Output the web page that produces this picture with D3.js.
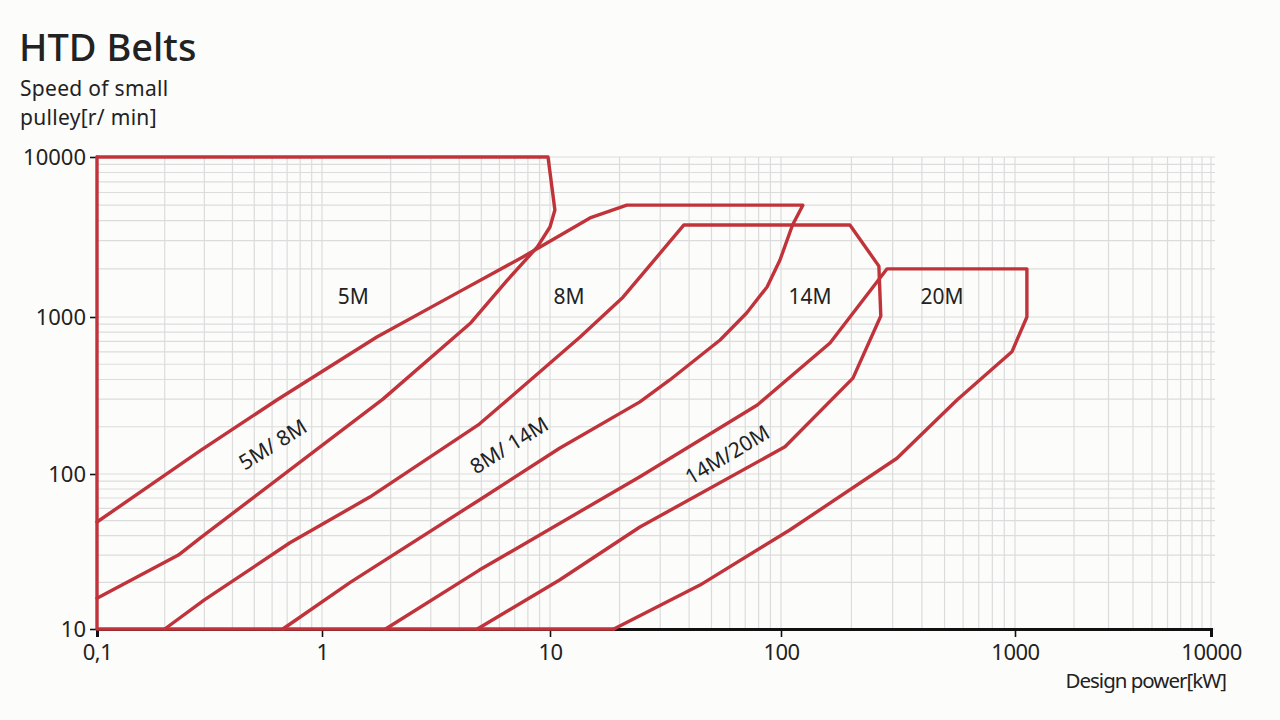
<!DOCTYPE html>
<html>
<head>
<meta charset="utf-8">
<script src="https://cdn.jsdelivr.net/npm/d3@7"></script>
<style>
  html, body { margin: 0; padding: 0; background: #fcfcfb; }
  svg { display: block; }
  text { font-family: "Noto Sans", "Open Sans", sans-serif; fill: #222; }
</style>
</head>
<body>
<svg id="chart" width="1280" height="720"></svg>
<script>
// ---- data (power in kW, speed in r/min) ----
const xTicks = [0.1, 1, 10, 100, 1000, 10000];
const xTickLabels = ["0,1", "1", "10", "100", "1000", "10000"];
const yTicks = [10, 100, 1000, 10000];
const yTickLabels = ["10", "100", "1000", "10000"];

// red frame: bottom edge and left edge of the chart area
const frameEdge = [[18.9, 10], [0.1, 10], [0.1, 10000]];

// boundary lines of each belt region
const limit5M = [[0.1, 10000], [9.8, 10000], [10.5, 4670], [10, 3650], [8.8, 2740], [6.5, 1700],
  [4.5, 920], [1.85, 300], [0.29, 39], [0.23, 30], [0.1, 15.8]];
const limit8M = [[0.1, 49], [0.29, 142], [0.63, 296], [1.74, 746], [3.9, 1410], [7.6, 2370],
  [14.9, 4160], [21.5, 5000], [124, 5000], [112, 3760], [99, 2270], [87, 1540], [71, 1060],
  [54.5, 714], [33, 397], [24.5, 288], [11, 146], [4.9, 68], [1.33, 20], [0.67, 10]];
const limit14M = [[0.2, 10], [0.3, 15.4], [0.72, 36], [1.62, 71], [4.9, 208], [6.5, 296],
  [13.5, 746], [20.7, 1330], [29, 2370], [38, 3760], [197, 3760], [262, 2080], [267, 1015],
  [203, 408], [104, 149], [24.5, 45.5], [11, 20.7], [4.8, 10]];
const limit20M = [[1.9, 10], [4.9, 24], [24.5, 96], [79, 275], [162, 683], [284, 2000],
  [1150, 2000], [1150, 1000], [970, 600], [565, 296], [313, 126], [109, 43.5], [44.6, 19.2],
  [18.9, 10]];

const regionLabels = ["5M", "8M", "14M", "20M"];
const regionLabelPos = [[1.37, 1315], [12.1, 1315], [133, 1315], [488, 1315]];
const overlapLabels = ["5M/ 8M", "8M/ 14M", "14M/20M"];
const overlapLabelPos = [[0.61, 151], [6.68, 149], [59, 130]];

// ---- drawing ----
const svg = d3.select("#chart");
const red = "#c1333b";

const x = d3.scaleLog()
  .domain([0.1, 1, 10, 100, 1000, 10000])
  .range([97, 322, 550, 781, 1015, 1211]);
const y = d3.scaleLog()
  .domain([10, 100, 1000, 10000])
  .range([629, 474, 317, 157]);

// grid
const minorX = [];
for (let e = -1; e < 4; e++) for (let m = 1; m <= 9; m++) minorX.push(m * Math.pow(10, e));
minorX.push(10000);
const minorY = [];
for (let e = 1; e < 4; e++) for (let m = 1; m <= 9; m++) minorY.push(m * Math.pow(10, e));
minorY.push(10000);

const grid = svg.append("g").attr("stroke", "#dcdcdc").attr("stroke-width", 1.2);
grid.selectAll("line.v").data(minorX).join("line").attr("class", "v")
  .attr("x1", d => x(d)).attr("x2", d => x(d))
  .attr("y1", y(10)).attr("y2", y(10000));
grid.selectAll("line.h").data(minorY).join("line").attr("class", "h")
  .attr("x1", x(0.1)).attr("x2", x(10000) + 4)
  .attr("y1", d => y(d)).attr("y2", d => y(d));

// axes
const xAxis = d3.axisBottom(x).tickValues(xTicks)
  .tickFormat((d, i) => xTickLabels[i]).tickSize(8).tickPadding(6);
const yAxis = d3.axisLeft(y).tickValues(yTicks)
  .tickFormat((d, i) => yTickLabels[i]).tickSize(7).tickPadding(4);

const gx = svg.append("g").attr("transform", `translate(0,${y(10)})`).call(xAxis);
gx.select(".domain").attr("stroke", "#111").attr("stroke-width", 3);
gx.selectAll(".tick line").attr("stroke", "#111").attr("stroke-width", 1.6);
gx.selectAll(".tick text").style("font-size", "22px").style("letter-spacing", "-0.5px")
  .attr("fill", "#222").attr("dy", "0.75em");

const gy = svg.append("g").attr("transform", `translate(${x(0.1)},0)`).call(yAxis);
gy.select(".domain").remove();
gy.selectAll(".tick line").attr("stroke", "#111").attr("stroke-width", 1.6);
gy.selectAll(".tick text").style("font-size", "22px").attr("fill", "#222");

// belt boundaries
const line = d3.line().x(d => x(d[0])).y(d => y(d[1]));
const boundaries = [frameEdge, limit5M, limit8M, limit14M, limit20M];
svg.append("g").selectAll("path").data(boundaries).join("path")
  .attr("d", line)
  .attr("fill", "none")
  .attr("stroke", red)
  .attr("stroke-width", 3.4)
  .attr("stroke-linejoin", "round")
  .attr("stroke-linecap", "round");

// region labels
svg.append("g").selectAll("text").data(regionLabels).join("text")
  .attr("x", (d, i) => x(regionLabelPos[i][0]))
  .attr("y", (d, i) => y(regionLabelPos[i][1]))
  .attr("text-anchor", "middle")
  .attr("dominant-baseline", "middle")
  .style("font-size", "21px")
  .text(d => d);

svg.append("g").selectAll("text").data(overlapLabels).join("text")
  .attr("transform", (d, i) => `translate(${x(overlapLabelPos[i][0])},${y(overlapLabelPos[i][1])}) rotate(${i === 2 ? -31 : -32})`)
  .attr("text-anchor", "middle")
  .attr("dominant-baseline", "middle")
  .style("font-size", "21px")
  .text(d => d);

// titles
svg.append("text").attr("x", 19).attr("y", 61)
  .style("font-size", "38px").style("font-weight", 500).attr("fill", "#1a1a1a")
  .text("HTD Belts");
svg.append("text").attr("x", 20).attr("y", 96)
  .style("font-size", "21px").style("letter-spacing", "0.3px").attr("fill", "#222")
  .text("Speed of small");
svg.append("text").attr("x", 20).attr("y", 125)
  .style("font-size", "21px").style("letter-spacing", "0.3px").attr("fill", "#222")
  .text("pulley[r/ min]");
svg.append("text").attr("x", 1226).attr("y", 688)
  .attr("text-anchor", "end")
  .style("font-size", "20.5px").style("letter-spacing", "-1px").attr("fill", "#222")
  .text("Design power[kW]");
</script>
</body>
</html>
